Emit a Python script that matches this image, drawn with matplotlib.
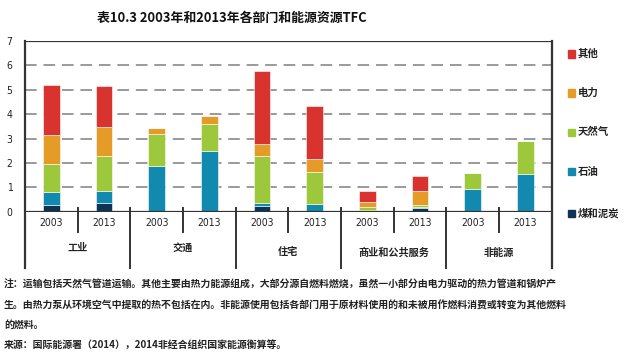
import matplotlib
matplotlib.use("Agg")
import matplotlib.pyplot as plt
from matplotlib.lines import Line2D
import numpy as np

plt.rcParams['font.family'] = ['Noto Sans CJK SC', 'DejaVu Sans']

sectors = ["工业", "交通", "住宅", "商业和公共服务", "非能源"]
years = ["2003", "2013"]
series_names = ["煤和泥炭", "石油", "天然气", "电力", "其他"]
coal  = [0.27, 0.34, 0.00, 0.00, 0.23, 0.00, 0.03, 0.14, 0.00, 0.00]
oil   = [0.54, 0.50, 1.88, 2.47, 0.14, 0.33, 0.06, 0.07, 0.92, 1.56]
gas   = [1.16, 1.46, 1.31, 1.11, 1.93, 1.31, 0.12, 0.06, 0.67, 1.32]
elec  = [1.19, 1.19, 0.26, 0.34, 0.48, 0.51, 0.19, 0.57, 0.00, 0.00]
other = [2.03, 1.67, 0.00, 0.00, 3.01, 2.17, 0.43, 0.61, 0.00, 0.00]
colors = ["#0d3357", "#1289ae", "#9dc83b", "#e59b27", "#d8332f"]
yticks = [0, 1, 2, 3, 4, 5, 6, 7]

title = "表10.3 2003年和2013年各部门和能源资源TFC"
notes = [
    "注：运输包括天然气管道运输。其他主要由热力能源组成，大部分源自燃料燃烧，虽然一小部分由电力驱动的热力管道和锅炉产",
    "生。由热力泵从环境空气中提取的热不包括在内。非能源使用包括各部门用于原材料使用的和未被用作燃料消费或转变为其他燃料",
    "的燃料。",
    "来源：国际能源署（2014），2014非经合组织国家能源衡算等。",
]

W, H = 628, 359
fig = plt.figure(figsize=(W / 100, H / 100), dpi=100)

def fx(px):
    return px / W

def fy(py):
    return 1 - py / H

x0, x1 = 25, 551.7
y_top, y_zero = 41, 211.7
ax = fig.add_axes([fx(x0), fy(y_zero), fx(x1) - fx(x0), fy(y_top) - fy(y_zero)])

n = len(coal)
x = np.arange(n)
bottom = np.zeros(n)
data = [coal, oil, gas, elec, other]
for vals, col in zip(data, colors):
    vals = np.array(vals)
    ax.bar(x, vals, width=0.32, bottom=bottom, color=col, edgecolor='white', linewidth=0.4, zorder=3)
    bottom += vals

ax.set_xlim(-0.5, n - 0.5)
ax.set_ylim(0, 7)
ax.set_yticks(yticks)
ax.set_yticklabels([str(v) for v in yticks], fontsize=7.5, color="#222222",
                   family=['DejaVu Sans'], fontstretch='condensed')
ax.tick_params(axis='y', length=0, pad=9)
ax.set_xticks([])
for v in yticks[1:-1]:
    ax.axhline(v, color="#9a9a9a", lw=1.4, dashes=(6, 3.5), zorder=1)
for s in ax.spines.values():
    s.set_visible(False)
ax.axhline(0, color="#333333", lw=1.6, zorder=4)
ax.axhline(7, color="#333333", lw=1.6, zorder=4)

def vline(px, pya, pyb, lw=1.6):
    fig.add_artist(Line2D([fx(px), fx(px)], [fy(pya), fy(pyb)], color="#333333", lw=lw,
                          transform=fig.transFigure))

slot = (x1 - x0) / n
vline(x0, y_top, 268)
vline(x1, y_top, 268)
for b in range(1, n):
    xp = x0 + b * slot
    if b % 2 == 0:
        vline(xp, 207.7, 268, lw=1.4)
    else:
        vline(xp, 207.7, 232, lw=1.4)

for i in range(n):
    fig.text(fx(x0 + (i + 0.5) * slot), fy(223), years[i % 2], ha='center', va='center',
             fontsize=7.5, color="#222222", family=['DejaVu Sans'], fontstretch='condensed')
cat_y = [248, 248, 252, 253, 253]
for j, s in enumerate(sectors):
    fig.text(fx(x0 + (2 * j + 1) * slot), fy(cat_y[j]), s, ha='center', va='center',
             fontsize=7.3, fontweight='bold', color="#222222")

leg_y = [54, 93, 132, 172, 213]
for k, (name, col) in enumerate(zip(series_names[::-1], colors[::-1])):
    yy = leg_y[k]
    fig.patches.append(plt.Rectangle((fx(568), fy(yy + 3.5)), fx(7), fy(0) - fy(7),
                                     transform=fig.transFigure, color=col, figure=fig))
    fig.text(fx(578), fy(yy), name, ha='left', va='center', fontsize=7.5,
             fontweight='bold', color="#222222")

fig.text(fx(232), fy(18), title, ha='center', va='center', fontsize=9.3,
         fontweight='bold', color="#111111")

note_y = [285, 305.5, 325, 345]
for t, yy in zip(notes, note_y):
    fig.text(fx(4), fy(yy), t, ha='left', va='center', fontsize=7.15,
             fontweight='bold', color="#222222")

fig.savefig("out.png", dpi=100)
